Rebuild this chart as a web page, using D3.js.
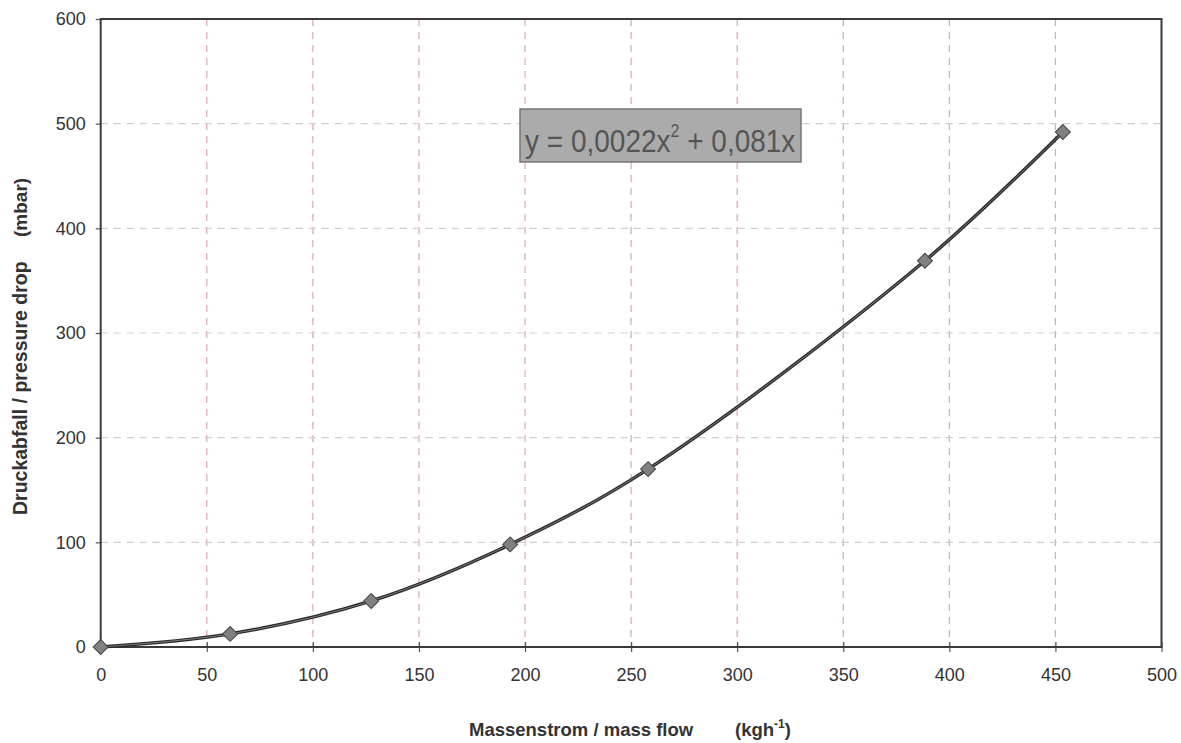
<!DOCTYPE html>
<html><head><meta charset="utf-8">
<script src="https://cdn.jsdelivr.net/npm/d3@7"></script>
<style>body{margin:0;background:#fff}svg{display:block}</style>
</head><body>
<script>
const massFlow = [0, 61, 127.5, 193, 258, 388.5, 453.5];
const pressureDrop = [0, 12.5, 44, 98, 170, 369, 492];
const xTicks = [0, 50, 100, 150, 200, 250, 300, 350, 400, 450, 500];
const yTicks = [0, 100, 200, 300, 400, 500, 600];
const equationText = "y = 0,0022x";
const equationRest = " + 0,081x";

const W = 1181, H = 743;
const m = {left: 100.7, right: 1161.5, top: 19, bottom: 647};
const svg = d3.select("body").append("svg").attr("width", W).attr("height", H);
const x = d3.scaleLinear().domain([0, 500]).range([m.left, m.right]);
const y = d3.scaleLinear().domain([0, 600]).range([m.bottom, m.top]);
const font = "Liberation Sans, Arial, sans-serif";

// gridlines
svg.append("g").selectAll("line").data(xTicks.filter(d => d > 0 && d < 500)).join("line")
  .attr("x1", d => x(d)).attr("x2", d => x(d)).attr("y1", m.top).attr("y2", m.bottom)
  .attr("stroke", "#d8a9b0").attr("stroke-width", 1.2).attr("stroke-dasharray", "7,6");
svg.append("g").selectAll("line").data(yTicks.filter(d => d > 0 && d < 600)).join("line")
  .attr("x1", m.left).attr("x2", m.right).attr("y1", d => y(d)).attr("y2", d => y(d))
  .attr("stroke", "#d0d0d0").attr("stroke-width", 1.2).attr("stroke-dasharray", "7,6");

// axes
const xAxis = svg.append("g").attr("transform", `translate(0,${m.bottom})`)
  .call(d3.axisBottom(x).tickValues(xTicks).tickSize(5).tickPadding(16));
const yAxis = svg.append("g").attr("transform", `translate(${m.left},0)`)
  .call(d3.axisLeft(y).tickValues(yTicks).tickSize(5).tickPadding(10));
[xAxis, yAxis].forEach(a => {
  a.select(".domain").remove();
  a.selectAll(".tick line").attr("stroke", "#555").attr("stroke-width", 1.2);
  a.selectAll(".tick text").attr("font-family", font).attr("font-size", 18).attr("fill", "#333");
});
xAxis.selectAll(".tick line").attr("y1", -5);

// frame
svg.append("rect").attr("x", m.left).attr("y", m.top)
  .attr("width", m.right - m.left).attr("height", m.bottom - m.top)
  .attr("fill", "none").attr("stroke", "#3a3a3a").attr("stroke-width", 2);

// curve
const pts = massFlow.map((d, i) => [d, pressureDrop[i]]);
const line = d3.line().x(d => x(d[0])).y(d => y(d[1])).curve(d3.curveCatmullRom.alpha(0.5));
svg.append("path").attr("d", line(pts)).attr("fill", "none").attr("stroke", "#2a2a2a").attr("stroke-width", 3.4);
svg.append("path").attr("d", line(pts)).attr("fill", "none").attr("stroke", "#7a7a7a").attr("stroke-width", 1);

// markers
svg.append("g").selectAll("path").data(pts).join("path")
  .attr("d", d3.symbol().type(d3.symbolSquare).size(112))
  .attr("transform", d => `translate(${x(d[0])},${y(d[1])}) rotate(45)`)
  .attr("fill", "#808080").attr("stroke", "#444").attr("stroke-width", 1);

// equation box
svg.append("rect").attr("x", 520).attr("y", 109).attr("width", 281).attr("height", 53)
  .attr("fill", "#ababab").attr("stroke", "#777").attr("stroke-width", 1.5);
const eq = svg.append("text").attr("transform", "translate(525,152) scale(1,1.12)")
  .attr("font-family", font).attr("font-size", 28).attr("fill", "#555");
eq.append("tspan").text(equationText);
eq.append("tspan").attr("dy", -13).attr("font-size", 16).text("2");
eq.append("tspan").attr("dy", 13).text(equationRest);

// axis titles
const titleStyle = t => t.attr("font-family", font).attr("font-weight", "bold").attr("fill", "#333");
svg.append("text").attr("transform", "translate(27,515) rotate(-90)").attr("font-size", 19.5)
  .call(titleStyle).text("Druckabfall / pressure drop");
svg.append("text").attr("transform", "translate(27,237) rotate(-90)").attr("font-size", 19)
  .call(titleStyle).text("(mbar)");
svg.append("text").attr("x", 469).attr("y", 736).attr("font-size", 18.5)
  .call(titleStyle).text("Massenstrom / mass flow");
const kt = svg.append("text").attr("x", 735).attr("y", 736).attr("font-size", 18.5).call(titleStyle);
kt.append("tspan").text("(kgh");
kt.append("tspan").attr("dy", -8).attr("font-size", 12).text("-1");
kt.append("tspan").attr("dy", 8).text(")");
</script>
</body></html>
